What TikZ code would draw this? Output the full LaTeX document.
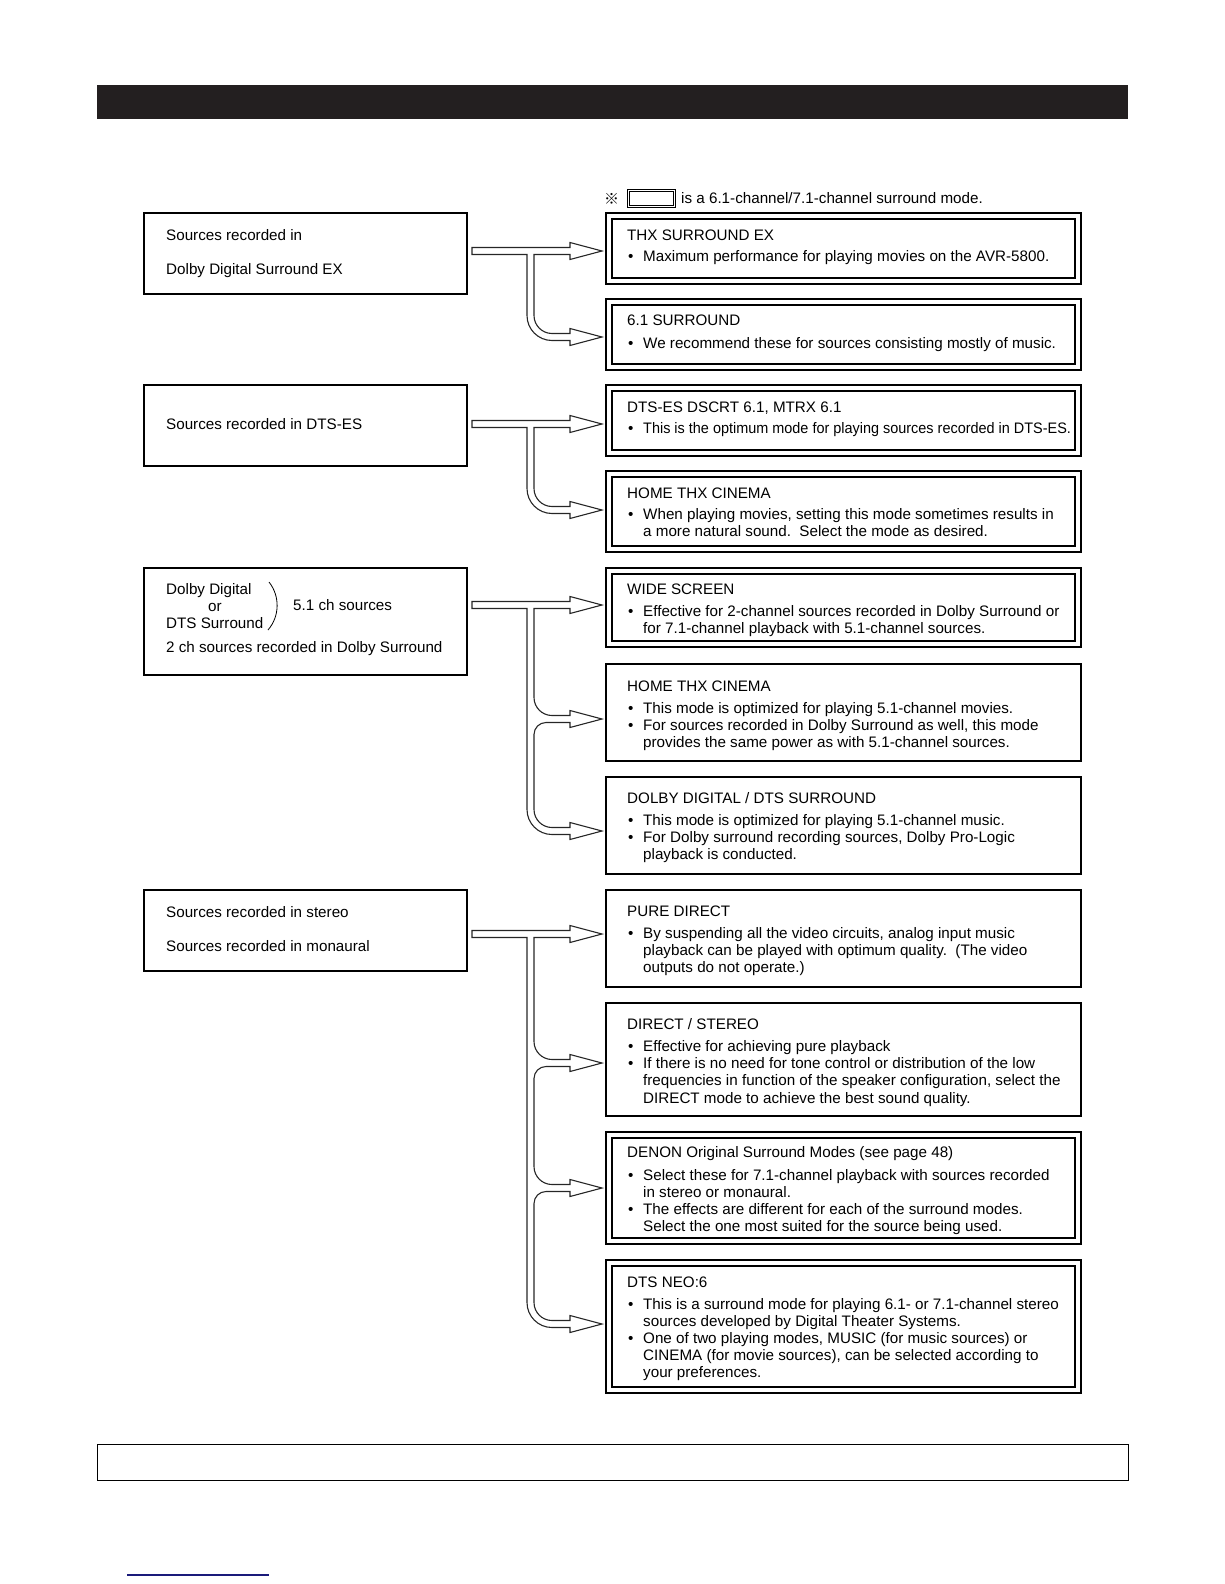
\documentclass[tikz,border=0pt]{standalone}
\usepackage{fontspec}
\usepackage{graphicx}
\setmainfont{Liberation Sans}
\newfontfamily\cjkfont{Noto Sans CJK JP}
\definecolor{barblack}{HTML}{231F20}
\definecolor{linkblue}{HTML}{1A1A7A}
\newcounter{tn}
\newcommand\tx[3]{\stepcounter{tn}\node[lbl] (t\arabic{tn}) at (#1,#2) {#3};}
\newcommand\bx[2]{\tx{628}{#1}{•}\tx{643}{#1}{#2}}
\newcommand\cx[2]{\tx{643}{#1}{#2}}
\newcommand\hx[2]{\tx{627}{#1}{#2}}
\newcommand\arhead[1]{-- (570,#1-3.5) -- (570,#1-8.5) -- (602,#1) -- (570,#1+8.5) -- (570,#1+3.5)}
\newcommand\arstart[1]{(472,#1-3.5) \arhead{#1} -- (534,#1+3.5)}
\newcommand\armid[1]{-- (534,#1-21.5) .. controls (534,#1-11.6) and (542.1,#1-3.5) .. (552,#1-3.5) \arhead{#1} -- (546,#1+3.5) .. controls (539.4,#1+3.5) and (534,#1+8.9) .. (534,#1+15.5)}
\newcommand\arend[2]{-- (534,#1-21.5) .. controls (534,#1-11.6) and (542.1,#1-3.5) .. (552,#1-3.5) \arhead{#1} -- (552,#1+3.5) .. controls (538.2,#1+3.5) and (527,#1-7.7) .. (527,#1-21.5) -- (527,#2+3.5) -- (472,#2+3.5) -- cycle}
\newcommand\rbox[3]{\node[rbx, minimum height=#3pt, anchor=north west] (#1) at (606,#2) {};}
\newcommand\inner[1]{\draw[boxline] ([shift={(6,6)}]#1.north west) rectangle ([shift={(-6,-6)}]#1.south east);}
\newcommand\lbox[3]{\node[rbx, minimum width=323pt, minimum height=#3pt, anchor=north west] (#1) at (144,#2) {};}
\begin{document}
\begin{tikzpicture}[x=1pt,y=-1pt,
  lbl/.style={anchor=base west, inner sep=0pt, font=\fontsize{15.2}{17.2}\selectfont},
  boxline/.style={line width=1.2pt, black},
  rbx/.style={draw, line width=1.2pt, minimum width=475pt, inner sep=0pt, outer sep=0pt},
  arr/.style={line width=1.1pt, black!85, line join=miter}]
\useasboundingbox (0,0) rectangle (1224,1584);
% header bar
\node[fill=barblack, minimum width=1031pt, minimum height=34pt, inner sep=0pt, anchor=north west] (bar) at (97,85) {};
% note
\node[anchor=base west, inner sep=0pt, font=\cjkfont\fontsize{15}{17}\selectfont] (mark) at (604,204) {※};
\node[draw, line width=1.1pt, minimum width=48pt, minimum height=18pt, inner sep=0pt, anchor=north west] (nb) at (627,189) {};
\draw[line width=0.8pt] ([shift={(2.5,2.5)}]nb.north west) rectangle ([shift={(-2.5,-2.5)}]nb.south east);
\tx{681}{203}{is a 6.1-channel/7.1-channel surround mode.}
% left boxes
\lbox{L1}{213}{81}
\tx{166}{240.5}{Sources recorded in}
\tx{166}{274.5}{Dolby Digital Surround EX}
\lbox{L2}{385}{81}
\tx{166}{429}{Sources recorded in DTS-ES}
\lbox{L3}{568}{107}
\tx{166}{594}{Dolby Digital}
\tx{208}{611}{or}
\tx{166}{628}{DTS Surround}
\draw[line width=0.8pt] (269,582) .. controls (280,596) and (280,616) .. (268,630);
\tx{293}{610}{5.1 ch sources}
\tx{166}{652}{2 ch sources recorded in Dolby Surround}
\lbox{L4}{890}{81}
\tx{166}{917}{Sources recorded in stereo}
\tx{166}{951}{Sources recorded in monaural}
% right boxes
\rbox{R1}{213}{71}\inner{R1}
\hx{240}{THX SURROUND EX}
\bx{261}{Maximum performance for playing movies on the AVR-5800.}
\rbox{R2}{299}{71}\inner{R2}
\hx{325.5}{6.1 SURROUND}
\bx{348}{We recommend these for sources consisting mostly of music.}
\rbox{R3}{385}{71}\inner{R3}
\hx{412}{DTS-ES DSCRT 6.1, MTRX 6.1}
\bx{433}{\scalebox{0.95}[1]{This is the optimum mode for playing sources recorded in DTS-ES.}}
\rbox{R4}{471}{81}\inner{R4}
\hx{498}{HOME THX CINEMA}
\bx{519}{When playing movies, setting this mode sometimes results in}
\cx{536}{a more natural sound.\ \ Select the mode as desired.}
\rbox{R5}{568}{79}\inner{R5}
\hx{594}{WIDE SCREEN}
\bx{616}{Effective for 2-channel sources recorded in Dolby Surround or}
\cx{633}{for 7.1-channel playback with 5.1-channel sources.}
\rbox{R6}{664}{97}
\hx{691}{HOME THX CINEMA}
\bx{713}{This mode is optimized for playing 5.1-channel movies.}
\bx{730}{For sources recorded in Dolby Surround as well, this mode}
\cx{747.5}{provides the same power as with 5.1-channel sources.}
\rbox{R7}{777}{97}
\hx{803}{DOLBY DIGITAL / DTS SURROUND}
\bx{825}{This mode is optimized for playing 5.1-channel music.}
\bx{842}{For Dolby surround recording sources, Dolby Pro-Logic}
\cx{859.5}{playback is conducted.}
\rbox{R8}{890}{97}
\hx{916}{PURE DIRECT}
\bx{938}{By suspending all the video circuits, analog input music}
\cx{955.5}{playback can be played with optimum quality.\ \ (The video}
\cx{972.6}{outputs do not operate.)}
\rbox{R9}{1003}{113}
\hx{1029}{DIRECT / STEREO}
\bx{1051}{Effective for achieving pure playback}
\bx{1068.5}{If there is no need for tone control or distribution of the low}
\cx{1085.7}{frequencies in function of the speaker configuration, select the}
\cx{1103}{DIRECT mode to achieve the best sound quality.}
\rbox{R10}{1132}{112}\inner{R10}
\hx{1157.5}{DENON Original Surround Modes (see page 48)}
\bx{1180}{Select these for 7.1-channel playback with sources recorded}
\cx{1197}{in stereo or monaural.}
\bx{1214}{The effects are different for each of the surround modes.}
\cx{1231}{Select the one most suited for the source being used.}
\rbox{R11}{1260}{133}\inner{R11}
\hx{1287}{DTS NEO:6}
\bx{1309}{This is a surround mode for playing 6.1- or 7.1-channel stereo}
\cx{1326}{sources developed by Digital Theater Systems.}
\bx{1343}{One of two playing modes, MUSIC (for music sources) or}
\cx{1360.5}{CINEMA (for movie sources), can be selected according to}
\cx{1377.6}{your preferences.}
% arrows
\draw[arr] \arstart{251} \arend{337}{251};
\draw[arr] \arstart{424} \arend{510}{424};
\draw[arr] \arstart{605} \armid{719} \arend{831}{605};
\draw[arr] \arstart{934} \armid{1063} \armid{1188} \arend{1324}{934};
% bottom box and link line
\node[draw, line width=1.4pt, minimum width=1031pt, minimum height=36pt, inner sep=0pt, anchor=north west] (foot) at (97,1444) {};
\coordinate (ua) at (127,1575);
\coordinate (ub) at (269,1575);
\draw[linkblue, line width=1.8pt] (ua) -- (ub);
\end{tikzpicture}
\end{document}
